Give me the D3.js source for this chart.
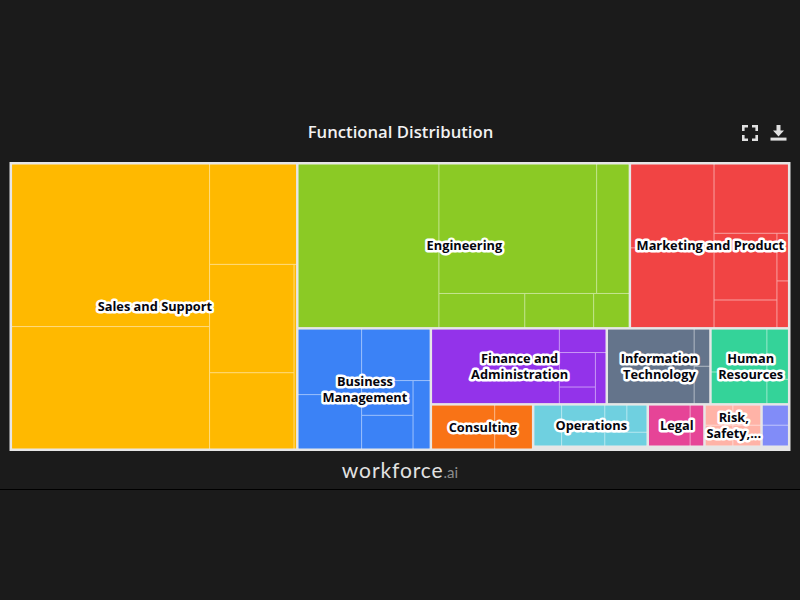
<!DOCTYPE html>
<html lang="en">
<head>
    <meta charset="UTF-8">
    <title>Functional Distribution</title>
    <script src="https://d3js.org/d3.v7.min.js"></script>
    <style>
        html, body { margin: 0; background: #1b1b1b; }
        svg { display: block; }
    </style>
</head>
<body>
<svg id="chart" width="800" height="600"></svg>
<script>
var categories = ["Sales and Support", "Engineering", "Marketing and Product", "Business Management",
    "Finance and Administration", "Information Technology", "Human Resources", "Consulting",
    "Operations", "Legal", "Risk, Safety,...", "Other"];
var categoryLines = [["Sales and Support"], ["Engineering"], ["Marketing and Product"], ["Business", "Management"],
    ["Finance and", "Administration"], ["Information", "Technology"], ["Human", "Resources"], ["Consulting"],
    ["Operations"], ["Legal"], ["Risk,", "Safety,..."], []];
var categoryValues = [81853, 54750, 26233, 16159, 13335, 7867, 5969, 4627, 5178, 2566, 2580, 1251];
var categoryColors = ["#ffb900", "#8bca25", "#f14444", "#3b82f6", "#9333ea", "#64748b", "#34d399", "#f97316",
    "#6fd0e0", "#e64497", "#ffb3a7", "#818cf8"];

// Category order, nested. Each level flips between columns and rows
var categoryTree = [0, [[1, 2], [3, [[4, 5, 6], [7, [[8, 9, 10, 11]]]]]]];

// Sub-function values per category, nested the same way
var salesCells = [[32076, 24156], [8700, [[9126, 6422], 460]]];
var engineeringCells = [22983, [[20382, 4193], [2924, 2346, 1207]]];
var marketingCells = [[6972, 6638], [5141, [[4190, 1732], [546, 535]]]];
var businessCells = [[4147, 3442], [3514, [[1787, 1725], 1160]]];
var financeCells = [9461, [1083, [[1238, 594], 534]]];
var itCells = [6418, [574, 577]];
var hrCells = [[2370, 1748], [1075, 520]];
var consultingCells = [2747, 1644];
var operationsCells = [1117, 1746, [[594, 540], 571]];
var legalCells = [1685, 548];
var riskCells = [[550, 567], [556, 573]];
var otherCells = [[520, 536]];
var cellGroups = [salesCells, engineeringCells, marketingCells, businessCells, financeCells, itCells,
    hrCells, consultingCells, operationsCells, legalCells, riskCells, otherCells];

var svg = d3.select("#chart");
var box = {x: 9.5, y: 162, width: 781, height: 289};

function toNode(v) {
    return Array.isArray(v) ? {children: v.map(toNode)} : {value: v};
}

function toCategoryNode(v) {
    return Array.isArray(v) ? {children: v.map(toCategoryNode)} : {index: v, value: categoryValues[v]};
}

// Flip between columns and rows at each depth
function flipTile(node, x0, y0, x1, y1) {
    (node.depth % 2 ? d3.treemapSlice : d3.treemapDice)(node, x0, y0, x1, y1);
}

var root = d3.hierarchy(toCategoryNode(categoryTree)).sum(function(d) { return d.value || 0; });

d3.treemap()
    .size([box.width, box.height])
    .tile(flipTile)
    .paddingInner(2.6)
    .paddingOuter(function(d) { return d.depth === 0 ? 2.6 : 0; })
    .paddingBottom(function(d) { return d.depth === 0 ? 2.6 : d.depth === 5 ? 3 : 0; })(root);

var chart = svg.append("g")
    .attr("transform", "translate(" + box.x + "," + box.y + ")");

chart.append("rect")
    .attr("width", box.width)
    .attr("height", box.height)
    .attr("fill", "#e6e6e6");

var leaves = root.leaves();

var groups = chart.selectAll("g.category")
    .data(leaves)
    .enter().append("g")
    .attr("class", "category")
    .attr("transform", function(d) { return "translate(" + d.x0 + "," + d.y0 + ")"; });

// The backing rect shows through the gaps as the thin light lines
groups.append("rect")
    .attr("width", function(d) { return d.x1 - d.x0; })
    .attr("height", function(d) { return d.y1 - d.y0; })
    .attr("fill", function(d) {
        return d3.interpolateRgb(categoryColors[d.data.index], "#ffffff")(0.5);
    });

groups.each(function(d) {
    var inner = d3.hierarchy(toNode(cellGroups[d.data.index])).sum(function(c) { return c.value || 0; });
    d3.treemap()
        .size([d.x1 - d.x0, d.y1 - d.y0])
        .tile(flipTile)
        .paddingInner(1)(inner);

    d3.select(this).selectAll("rect.cell")
        .data(inner.leaves())
        .enter().append("rect")
        .attr("class", "cell")
        .attr("x", function(c) { return c.x0; })
        .attr("y", function(c) { return c.y0; })
        .attr("width", function(c) { return c.x1 - c.x0; })
        .attr("height", function(c) { return c.y1 - c.y0; })
        .attr("fill", categoryColors[d.data.index]);
});

// Labels go on top, white halo behind the dark text
var labels = chart.selectAll("text.label")
    .data(leaves)
    .enter().append("text")
    .attr("class", "label")
    .attr("x", function(d) { return (d.x0 + d.x1) / 2 + 0.8; })
    .attr("y", function(d) { return (d.y0 + d.y1) / 2; })
    .attr("text-anchor", "middle")
    .style("font-family", "'Open Sans', 'Noto Sans', sans-serif")
    .style("font-size", "12.8px")
    .style("font-weight", "700")
    .style("fill", "#05050d")
    .style("stroke", "#ffffff")
    .style("stroke-width", "5px")
    .style("stroke-linejoin", "round")
    .style("paint-order", "stroke");

labels.each(function(d) {
    var lines = categoryLines[d.data.index];
    d3.select(this).selectAll("tspan")
        .data(lines)
        .enter().append("tspan")
        .attr("x", (d.x0 + d.x1) / 2 + 0.8)
        .attr("dy", function(l, i) { return i === 0 ? (4.5 - (lines.length - 1) * 8) : 16; })
        .text(function(l) { return l; });
});

// Title
svg.append("text")
    .attr("x", 400.5)
    .attr("y", 138)
    .attr("text-anchor", "middle")
    .style("font-family", "'Open Sans', sans-serif")
    .style("font-size", "16.7px")
    .style("font-weight", "600")
    .style("fill", "#f2f2f2")
    .text("Functional Distribution");

// Toolbar icons
var fullscreenIcon = svg.append("g")
    .attr("transform", "translate(742,125)")
    .attr("fill", "none")
    .attr("stroke", "#e0e0e0")
    .attr("stroke-width", 2.6);
fullscreenIcon.append("path").attr("d", "M1.3,6V1.3H6M10,1.3H14.7V6M14.7,10V14.7H10M6,14.7H1.3V10");

var downloadIcon = svg.append("g")
    .attr("transform", "translate(770.5,125)")
    .attr("fill", "#e0e0e0");
downloadIcon.append("path").attr("d", "M6,0H10V5.5H13.5L8,11.5L2.5,5.5H6Z");
downloadIcon.append("rect").attr("x", 0).attr("y", 12.6).attr("width", 16).attr("height", 3);

// Footer brand and divider
var brand = svg.append("text")
    .attr("x", 400)
    .attr("y", 478)
    .attr("text-anchor", "middle")
    .style("font-family", "Lato, sans-serif");
brand.append("tspan")
    .style("font-size", "21px")
    .style("letter-spacing", "0.9px")
    .style("fill", "#e2e2e2")
    .text("workforce");
brand.append("tspan")
    .style("font-size", "15px")
    .style("fill", "#8c8c8c")
    .text(".ai");

svg.append("line")
    .attr("x1", 0)
    .attr("x2", 800)
    .attr("y1", 489.5)
    .attr("y2", 489.5)
    .attr("stroke", "#000000");
</script>
</body>
</html>
